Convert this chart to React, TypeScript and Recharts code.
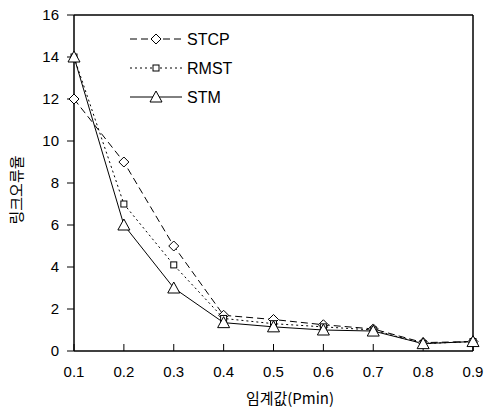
import React from "react";
import { LineChart, Line, XAxis, YAxis, ReferenceLine } from "recharts";

const thresholds = [0.1, 0.2, 0.3, 0.4, 0.5, 0.6, 0.7, 0.8, 0.9];
const stcp = [12, 9, 5, 1.7, 1.5, 1.25, 1.05, 0.4, 0.45];
const rmst = [14, 7, 4.1, 1.55, 1.3, 1.15, 1.0, 0.35, 0.45];
const stm = [14, 6, 3, 1.35, 1.15, 1.0, 0.95, 0.35, 0.45];
const yTicks = [0, 2, 4, 6, 8, 10, 12, 14, 16];

const data = thresholds.map((p, i) => ({ p, stcp: stcp[i], rmst: rmst[i], stm: stm[i] }));

const tickFont = { fontSize: 15, fill: "#000", fontFamily: "'Liberation Sans', Arial, sans-serif" };

const Diamond = (props: any) => {
  const { cx, cy } = props;
  if (cx == null || cy == null) return null;
  return (
    <path d={`M${cx},${cy - 5}L${cx + 5},${cy}L${cx},${cy + 5}L${cx - 5},${cy}Z`} fill="#fff" stroke="#000" strokeWidth={1} />
  );
};

const Square = (props: any) => {
  const { cx, cy } = props;
  if (cx == null || cy == null) return null;
  return <rect x={cx - 3} y={cy - 3} width={6} height={6} fill="#fff" stroke="#000" strokeWidth={1} />;
};

const Triangle = (props: any) => {
  const { cx, cy } = props;
  if (cx == null || cy == null) return null;
  return (
    <path d={`M${cx},${cy - 6}L${cx + 6},${cy + 5}L${cx - 6},${cy + 5}Z`} fill="#fff" stroke="#000" strokeWidth={1} />
  );
};

const legendItems = [
  { name: "STCP", dash: "7 4", mark: "diamond", y: 39 },
  { name: "RMST", dash: "2 3", mark: "square", y: 68 },
  { name: "STM", dash: undefined, mark: "triangle", y: 97 },
];

export default function App() {
  return (
    <div style={{ position: "absolute", left: 0, top: 0, width: 488, height: 411, background: "#fff" }}>
      <LineChart width={488} height={411} data={data} margin={{ top: 15, right: 15, left: 14, bottom: 30 }}>
        <XAxis
          dataKey="p"
          type="number"
          domain={[0.1, 0.9]}
          ticks={thresholds}
          tickFormatter={(v: number) => v.toFixed(1)}
          tick={tickFont}
          tickSize={-7}
          tickMargin={22}
          axisLine={{ stroke: "#000", strokeWidth: 1.5 }}
          tickLine={{ stroke: "#000" }}
          height={30}
          allowDecimals
        />
        <YAxis
          type="number"
          domain={[0, 16]}
          ticks={yTicks}
          tick={tickFont}
          tickSize={7}
          tickMargin={8}
          width={60}
          axisLine={{ stroke: "#000", strokeWidth: 1.5 }}
          tickLine={{ stroke: "#000" }}
        />
        <ReferenceLine y={16} stroke="#000" strokeWidth={1.5} />
        <ReferenceLine x={0.9} stroke="#000" strokeWidth={1.5} />
        <Line type="linear" dataKey="stcp" stroke="#000" strokeWidth={1} strokeDasharray="7 4" dot={<Diamond />} isAnimationActive={false} />
        <Line type="linear" dataKey="rmst" stroke="#000" strokeWidth={1} strokeDasharray="2 3" dot={<Square />} isAnimationActive={false} />
        <Line type="linear" dataKey="stm" stroke="#000" strokeWidth={1} dot={<Triangle />} isAnimationActive={false} />
      </LineChart>
      <svg width={488} height={411} style={{ position: "absolute", left: 0, top: 0, pointerEvents: "none" }}>
        {legendItems.map((it) => (
          <g key={it.name}>
            <line x1={130} x2={182} y1={it.y} y2={it.y} stroke="#000" strokeWidth={1} strokeDasharray={it.dash} />
            {it.mark === "diamond" && <Diamond cx={156} cy={it.y} />}
            {it.mark === "square" && <Square cx={156} cy={it.y} />}
            {it.mark === "triangle" && <Triangle cx={156} cy={it.y} />}
            <text x={187} y={it.y + 6} fontSize={16} fontFamily="'Liberation Sans', Arial, sans-serif" fill="#000">
              {it.name}
            </text>
          </g>
        ))}
        <text
          transform="translate(22,190) rotate(-90)"
          textAnchor="middle"
          fontSize={15}
          fontFamily="'Noto Sans CJK KR', sans-serif"
          fill="#000"
        >
          링크오류율
        </text>
        <text x={290} y={404} textAnchor="middle" fontSize={15} fontFamily="'Noto Sans CJK KR', sans-serif" fill="#000">
          임계값(Pmin)
        </text>
      </svg>
    </div>
  );
}
